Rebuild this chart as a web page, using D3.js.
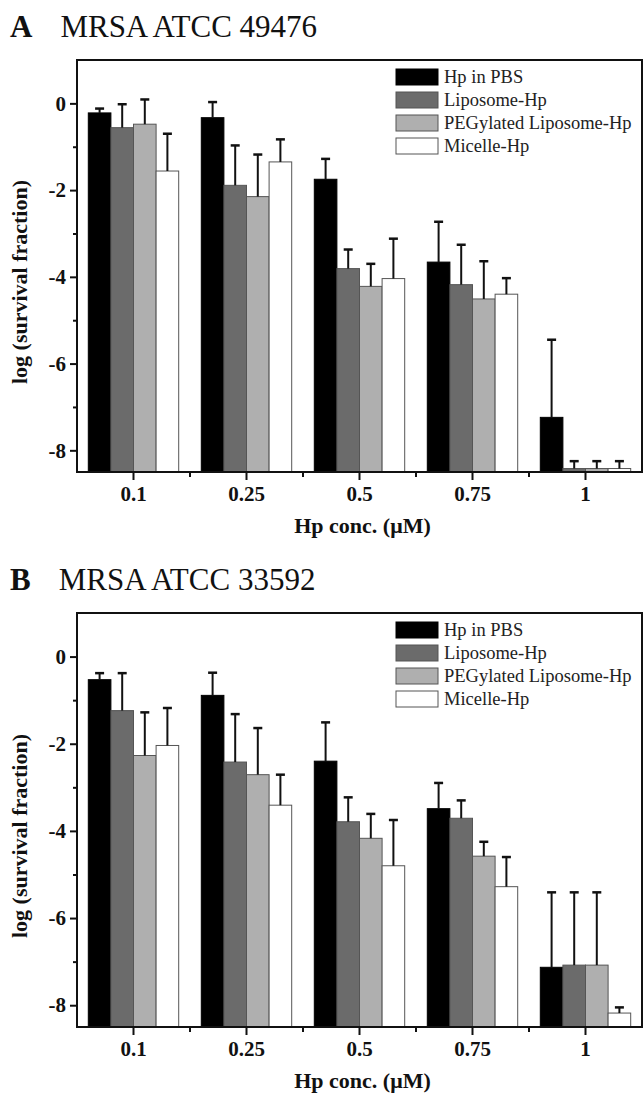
<!DOCTYPE html>
<html><head><meta charset="utf-8">
<script src="https://cdn.jsdelivr.net/npm/d3@7"></script>
<style>body{margin:0;background:#fff}svg{display:block}</style>
</head><body>
<script>
const concentrations = ["0.1","0.25","0.5","0.75","1"];
const seriesNames = ["Hp in PBS","Liposome-Hp","PEGylated Liposome-Hp","Micelle-Hp"];
const seriesColors = ["#000000","#6b6b6b","#afafaf","#ffffff"];
const yTickValues = [-8,-6,-4,-2,0];
const yMinorTicks = [-7,-5,-3,-1];

// Panel A: MRSA ATCC 49476
const hpPBS_A = [-0.22, -0.33, -1.75, -3.66, -7.24];
const hpPBS_A_err = [0.10, 0.36, 0.47, 0.93, 1.79];
const liposome_A = [-0.56, -1.89, -3.81, -4.18, -8.42];
const liposome_A_err = [0.54, 0.92, 0.44, 0.92, 0.17];
const peg_A = [-0.48, -2.15, -4.22, -4.51, -8.42];
const peg_A_err = [0.57, 0.97, 0.52, 0.87, 0.17];
const micelle_A = [-1.56, -1.35, -4.04, -4.40, -8.42];
const micelle_A_err = [0.86, 0.52, 0.92, 0.37, 0.17];

// Panel B: MRSA ATCC 33592
const hpPBS_B = [-0.53, -0.89, -2.40, -3.49, -7.13];
const hpPBS_B_err = [0.15, 0.52, 0.89, 0.59, 1.72];
const liposome_B = [-1.24, -2.42, -3.79, -3.71, -7.08];
const liposome_B_err = [0.86, 1.10, 0.56, 0.41, 1.67];
const peg_B = [-2.27, -2.71, -4.17, -4.58, -7.08];
const peg_B_err = [0.99, 1.07, 0.56, 0.33, 1.67];
const micelle_B = [-2.04, -3.41, -4.80, -5.28, -8.18];
const micelle_B_err = [0.86, 0.70, 1.05, 0.68, 0.13];

const W = 644, H = 1097;
const svg = d3.select("body").append("svg").attr("width", W).attr("height", H);
const SERIF = "'Liberation Serif','Times New Roman',serif";
const fmt = d => String(d).replace("\u2212", "-");

function drawPanel(letter, title, top, bottom, values, errs){
  const left = 77, right = 642;
  const g = svg.append("g");
  const x0 = d3.scaleBand().domain(concentrations).range([left, right]).paddingInner(0.2).paddingOuter(0.1);
  const x1 = d3.scaleBand().domain(seriesNames).range([0, x0.bandwidth()]);
  const y = d3.scaleLinear().domain([-8.5, 1]).range([bottom, top]);

  // title
  const t = g.append("text").attr("x", 10).attr("y", top - 23)
    .attr("font-family", SERIF).attr("font-size", 31).attr("fill", "#111");
  t.append("tspan").attr("font-weight", "bold").text(letter);
  t.append("tspan").attr("dx", 28).text(title);

  // bars
  const data = [];
  concentrations.forEach((c, i) => seriesNames.forEach((s, j) => data.push({c, s, j, v: values[j][i], e: errs[j][i]})));
  g.selectAll("rect.bar").data(data).join("rect").attr("class","bar")
    .attr("x", d => x0(d.c) + x1(d.s))
    .attr("width", x1.bandwidth())
    .attr("y", d => y(d.v))
    .attr("height", d => y(-8.5) - y(d.v))
    .attr("fill", d => seriesColors[d.j])
    .attr("stroke", d => d.j === 0 ? "#000" : "#555")
    .attr("stroke-width", 1);

  // error bars (upper only)
  const eb = g.selectAll("g.err").data(data).join("g").attr("class","err");
  eb.append("line")
    .attr("x1", d => x0(d.c) + x1(d.s) + x1.bandwidth()/2)
    .attr("x2", d => x0(d.c) + x1(d.s) + x1.bandwidth()/2)
    .attr("y1", d => y(d.v)).attr("y2", d => y(d.v + d.e))
    .attr("stroke", "#111").attr("stroke-width", 2);
  eb.append("line")
    .attr("x1", d => x0(d.c) + x1(d.s) + x1.bandwidth()/2 - 4.5)
    .attr("x2", d => x0(d.c) + x1(d.s) + x1.bandwidth()/2 + 4.5)
    .attr("y1", d => y(d.v + d.e)).attr("y2", d => y(d.v + d.e))
    .attr("stroke", "#111").attr("stroke-width", 2.5);

  // frame
  g.append("rect").attr("x", left).attr("y", top).attr("width", right-left).attr("height", bottom-top)
    .attr("fill", "none").attr("stroke", "#111").attr("stroke-width", 2);

  // y axis
  const yAxis = g.append("g").attr("transform", `translate(${left},0)`)
    .call(d3.axisLeft(y).tickValues(yTickValues).tickSize(7).tickPadding(4).tickFormat(fmt));
  yAxis.select(".domain").remove();
  yAxis.selectAll("line").attr("stroke", "#111").attr("stroke-width", 2);
  yAxis.selectAll("text").attr("font-family", SERIF).attr("font-weight", "bold").attr("font-size", 21).attr("fill", "#111");
  const yMinor = g.append("g").attr("transform", `translate(${left},0)`)
    .call(d3.axisLeft(y).tickValues(yMinorTicks).tickSize(4).tickFormat(""));
  yMinor.select(".domain").remove();
  yMinor.selectAll("line").attr("stroke", "#111").attr("stroke-width", 2);

  // x axis
  const xAxis = g.append("g").attr("transform", `translate(0,${bottom})`)
    .call(d3.axisBottom(x0).tickSize(8).tickPadding(6));
  xAxis.select(".domain").remove();
  xAxis.selectAll("line").attr("stroke", "#111").attr("stroke-width", 2);
  xAxis.selectAll("text").attr("font-family", SERIF).attr("font-weight", "bold").attr("font-size", 21).attr("fill", "#111");
  const mids = concentrations.slice(0, -1).map((c, i) => (x0(c) + x0(concentrations[i+1]) + x0.bandwidth()) / 2);
  g.selectAll("line.xminor").data(mids).join("line").attr("class","xminor")
    .attr("x1", d => d).attr("x2", d => d).attr("y1", bottom).attr("y2", bottom + 5)
    .attr("stroke", "#111").attr("stroke-width", 2);

  // axis titles
  g.append("text").attr("x", (left+right)/2 + 3).attr("y", bottom + 61).attr("text-anchor", "middle")
    .attr("font-family", SERIF).attr("font-weight", "bold").attr("font-size", 22).attr("fill", "#111")
    .text("Hp conc. (μM)");
  g.append("text").attr("transform", `translate(27,${(top+bottom)/2 + 16}) rotate(-90)`).attr("text-anchor", "middle")
    .attr("font-family", SERIF).attr("font-weight", "bold").attr("font-size", 22).attr("fill", "#111")
    .text("log (survival fraction)");

  // legend
  const lg = g.append("g").attr("transform", `translate(396,${top + 9})`);
  seriesNames.forEach((s, j) => {
    lg.append("rect").attr("x", 0).attr("y", j*23).attr("width", 42).attr("height", 16)
      .attr("fill", seriesColors[j]).attr("stroke", j === 0 ? "#000" : "#555").attr("stroke-width", 1);
    lg.append("text").attr("x", 48).attr("y", j*23 + 14)
      .attr("font-family", SERIF).attr("font-size", 18.5).attr("fill", "#222").text(s);
  });
}

drawPanel("A", "MRSA ATCC 49476", 60, 472,
  [hpPBS_A, liposome_A, peg_A, micelle_A], [hpPBS_A_err, liposome_A_err, peg_A_err, micelle_A_err]);
drawPanel("B", "MRSA ATCC 33592", 613, 1027,
  [hpPBS_B, liposome_B, peg_B, micelle_B], [hpPBS_B_err, liposome_B_err, peg_B_err, micelle_B_err]);
</script>
</body></html>
